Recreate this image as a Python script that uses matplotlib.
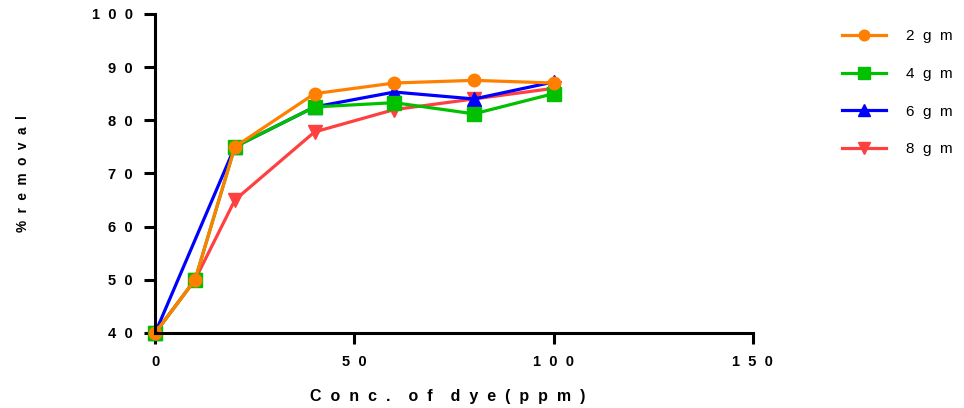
import matplotlib
matplotlib.use("Agg")
import matplotlib.pyplot as plt
import numpy as np

plt.rcParams['font.family'] = ['Liberation Sans', 'DejaVu Sans']

# data
conc = [0, 10, 20, 40, 60, 80, 100]
conc_6gm = [0, 20, 40, 60, 80, 100]   # 6 gm has no point at 10
gm2 = [40, 50, 75, 85, 87, 87.5, 87]
gm4 = [40, 50, 75, 82.5, 83.3, 81.2, 85]
gm6 = [40, 75, 82.5, 85.3, 84, 87.2]
gm8 = [40, 50, 65, 77.8, 82, 84, 86]

labels = ['2  g  m', '4  g  m', '6  g  m', '8  g  m']
colors = ['#FF8000', '#00C000', '#0000FF', '#FF4040']
markers = ['o', 's', '^', 'v']
msizes = [9, 10, 9.5, 9.5]

fig = plt.figure(figsize=(9.64, 4.08), dpi=100)
ax = fig.add_axes([0.161, 0.184, 0.62, 0.782])

# draw order: 8 gm underneath, then 6, 4, 2 on top
series = [(conc, gm2), (conc, gm4), (conc_6gm, gm6), (conc, gm8)]
handles = [None] * 4
for i in [3, 2, 1, 0]:
    x, y = series[i]
    h, = ax.plot(x, y, color=colors[i], marker=markers[i], markersize=msizes[i],
                 linewidth=2.3, label=labels[i], clip_on=False)
    handles[i] = h

ax.set_xlim(0, 150)
ax.set_ylim(40, 100)
ax.set_xticks([0, 50, 100, 150])
ax.set_xticklabels(['0', '5  0', '1  0  0', '1  5  0'])
ax.set_yticks([40, 50, 60, 70, 80, 90, 100])
ax.set_yticklabels(['4  0', '5  0', '6  0', '7  0', '8  0', '9  0', '1  0  0'])

for lab in ax.get_xticklabels() + ax.get_yticklabels():
    lab.set_fontweight('bold')
    lab.set_fontsize(10.5)

ax.spines['top'].set_visible(False)
ax.spines['right'].set_visible(False)
ax.spines['left'].set_linewidth(2.2)
ax.spines['bottom'].set_linewidth(2.2)
ax.tick_params(axis='both', width=2.2, length=8, pad=8)

ax.set_xlabel('C  o  n  c  .    o  f    d  y  e  (  p  p  m  )', fontweight='bold', fontsize=11.5)
ax.xaxis.set_label_coords(0.49, -0.175)
ax.set_ylabel('%  r  e  m  o  v  a  l', fontweight='bold', fontsize=9.8)
ax.yaxis.set_label_coords(-0.21, 0.5)

fig.legend(handles=handles, labels=labels, loc='upper left',
           bbox_to_anchor=(0.859, 0.962), frameon=False, fontsize=11,
           handlelength=2.9, handletextpad=1.3, labelspacing=1.55,
           markerscale=0.85)

fig.savefig('out.png', dpi=100)
